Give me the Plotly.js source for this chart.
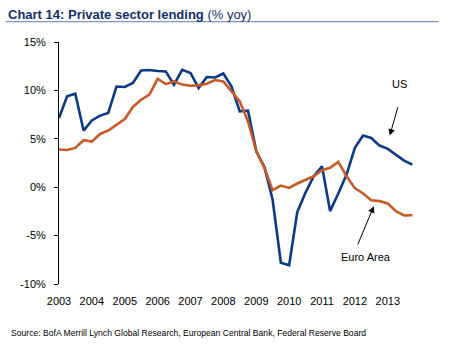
<!DOCTYPE html>
<html><head><meta charset="utf-8">
<script src="https://cdn.plot.ly/plotly-3.0.1.min.js"></script>
<style>html,body{margin:0;padding:0;background:#fff}</style>
</head><body><div id="chart" style="width:461px;height:353px"></div>
<script>
const quarters = [
 '2003-01-01','2003-04-01','2003-07-01','2003-10-01',
 '2004-01-01','2004-04-01','2004-07-01','2004-10-01',
 '2005-01-01','2005-04-01','2005-07-01','2005-10-01',
 '2006-01-01','2006-04-01','2006-07-01','2006-10-01',
 '2007-01-01','2007-04-01','2007-07-01','2007-10-01',
 '2008-01-01','2008-04-01','2008-07-01','2008-10-01',
 '2009-01-01','2009-04-01','2009-07-01','2009-10-01',
 '2010-01-01','2010-04-01','2010-07-01','2010-10-01',
 '2011-01-01','2011-04-01','2011-07-01','2011-10-01',
 '2012-01-01','2012-04-01','2012-07-01','2012-10-01',
 '2013-01-01','2013-04-01','2013-07-01','2013-10-01'
];
const usLending = [7.15, 9.4, 9.66, 5.85, 6.9, 7.4, 7.67, 10.4, 10.35, 10.76,
 12.06, 12.1, 12.0, 11.96, 10.6, 12.13, 11.8, 10.25, 11.38, 11.34,
 11.75, 10.4, 7.84, 7.9, 3.7, 2.1, -1.27, -7.8, -8.07, -2.58,
 -0.58, 1.13, 2.16, -2.47, -0.65, 1.3, 4.06, 5.33, 5.09, 4.3,
 3.96, 3.37, 2.75, 2.34];
const euroLending = [3.89, 3.85, 4.06, 4.85, 4.71, 5.5, 5.85, 6.46, 7.05, 8.29,
 9.04, 9.56, 11.2, 10.65, 10.93, 10.6, 10.48, 10.52, 10.69, 11.07,
 10.93, 9.9, 8.87, 6.8, 3.7, 2.0, -0.3, 0.17, -0.07, 0.38,
 0.72, 1.13, 1.75, 2.0, 2.62, 1.13, -0.1, -0.65, -1.34, -1.44,
 -1.68, -2.47, -2.92, -2.88];
const yearTicks = ['2003-01-01','2004-01-01','2005-01-01','2006-01-01','2007-01-01','2008-01-01',
 '2009-01-01','2010-01-01','2011-01-01','2012-01-01','2013-01-01'];
const yearLabels = ['2003','2004','2005','2006','2007','2008','2009','2010','2011','2012','2013'];
const yTicks = [-10, -5, 0, 5, 10, 15];
const yLabels = ['-10%', '-5%', '0%', '5%', '10%', '15%'];

const FONT = '"Liberation Sans", Arial, sans-serif';
const xRange = ['2003-01-01', '2013-10-08'];

const traces = [
  {x: quarters, y: usLending, type: 'scatter', mode: 'lines', name: 'US',
   line: {color: '#0c3a84', width: 2.6}, hoverinfo: 'skip'},
  {x: quarters, y: euroLending, type: 'scatter', mode: 'lines', name: 'Euro Area',
   line: {color: '#c75a29', width: 2.6}, hoverinfo: 'skip'}
];

const layout = {
  width: 461, height: 353,
  margin: {l: 59, r: 48, t: 42, b: 69},
  paper_bgcolor: '#fff', plot_bgcolor: '#fff',
  showlegend: false,
  font: {family: FONT, color: '#000', size: 11},
  title: {
    text: '<b>Chart 14: Private sector lending</b> (% yoy)',
    font: {family: FONT, size: 13, color: '#13306a'},
    x: 8/461, xanchor: 'left', xref: 'container',
    y: 1 - 14/353, yanchor: 'middle', yref: 'container'
  },
  xaxis: {
    type: 'date', range: xRange, tickmode: 'array', tickvals: yearTicks, ticktext: yearLabels,
    showline: false, showgrid: false, zeroline: false, ticks: '', ticklabelstandoff: 9,
    tickfont: {size: 11, family: FONT, color: '#000'}
  },
  xaxis2: {
    type: 'date', range: xRange, overlaying: 'x', anchor: 'free', position: 0.4,
    tickmode: 'array', tickvals: yearTicks, showticklabels: false,
    ticks: 'outside', ticklen: 4, tickcolor: '#000', tickwidth: 1,
    showline: true, linecolor: '#000', linewidth: 1, showgrid: false, zeroline: false
  },
  yaxis: {
    range: [-10, 15], tickmode: 'array', tickvals: yTicks, ticktext: yLabels,
    showline: true, linecolor: '#000', linewidth: 1, ticks: 'outside', ticklen: 4,
    tickcolor: '#000', showgrid: false, zeroline: false, ticklabelstandoff: 6,
    tickfont: {size: 11, family: FONT, color: '#000'}
  },
  shapes: [
    {type: 'line', xref: 'paper', yref: 'paper', x0: -0.1506, x1: 1.0726, y0: 1.0839, y1: 1.0839,
     line: {color: '#7b97c2', width: 1.2}}
  ],
  annotations: [
    {x: '2013-01-23', y: 5.33, ax: '2013-04-27', ay: 8.42, axref: 'x', ayref: 'y', xref: 'x', yref: 'y',
     text: '', showarrow: true, arrowhead: 2, arrowsize: 1.3, arrowwidth: 1, arrowcolor: '#000', standoff: 0},
    {x: '2013-05-12', y: 10.69, xref: 'x', yref: 'y', text: 'US', showarrow: false,
     font: {size: 11, family: FONT, color: '#000'}},
    {x: '2012-07-30', y: -1.96, ax: '2012-01-26', ay: -6.08, axref: 'x', ayref: 'y', xref: 'x', yref: 'y',
     text: '', showarrow: true, arrowhead: 2, arrowsize: 1.3, arrowwidth: 1, arrowcolor: '#000', standoff: 0},
    {x: '2012-05-08', y: -7.18, xref: 'x', yref: 'y', text: 'Euro Area', showarrow: false,
     font: {size: 11, family: FONT, color: '#000'}},
    {x: -0.142, y: -0.201, xref: 'paper', yref: 'paper', xanchor: 'left', yanchor: 'middle',
     text: 'Source: BofA Merrill Lynch Global Research, European Central Bank, Federal Reserve Board',
     showarrow: false, font: {size: 8.6, family: FONT, color: '#000'}}
  ]
};

Plotly.newPlot('chart', traces, layout, {displayModeBar: false, staticPlot: true});
</script>
</body></html>
